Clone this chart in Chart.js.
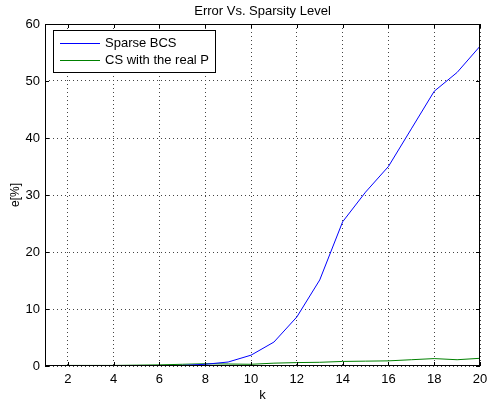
<!DOCTYPE html>
<html>
<head>
<meta charset="utf-8">
<script src="https://cdn.jsdelivr.net/npm/chart.js@4.4.1/dist/chart.umd.min.js"></script>
<style>
  html, body { margin: 0; padding: 0; background: #fff; }
  #wrap { width: 487px; height: 403px; }
</style>
</head>
<body>
<div id="wrap"><canvas id="c" width="487" height="403"></canvas></div>
<script>
// data
const kValues = [1, 2, 3, 4, 5, 6, 7, 8, 9, 10, 11, 12, 13, 14, 15, 16, 17, 18, 19, 20];
const sparseBCS = [0.05, 0.05, 0.05, 0.05, 0.05, 0.05, 0.1, 0.3, 0.7, 1.9, 4.2, 8.6, 15.1, 25.3, 30.5, 35, 41.6, 48.2, 51.5, 56.1];
const csRealP = [0.05, 0.1, 0.1, 0.1, 0.15, 0.2, 0.3, 0.4, 0.35, 0.3, 0.5, 0.6, 0.65, 0.8, 0.85, 0.9, 1.1, 1.3, 1.1, 1.35];
const xTicks = [2, 4, 6, 8, 10, 12, 14, 16, 18, 20];
const yTicks = [0, 10, 20, 30, 40, 50, 60];
const seriesLabels = ['Sparse BCS', 'CS with the real P'];
const seriesColors = ['#0000ff', '#008000'];
const chartTitle = 'Error Vs. Sparsity Level';

const FONT = 'Liberation Sans, Arial, Helvetica, sans-serif';

// matlab style: box, inward ticks, title over the axes, legend inside
const matlabBox = {
    id: 'matlabBox',
    afterDraw(chart) {
        const ctx = chart.ctx;
        const a = chart.chartArea;
        const xs = chart.scales.x, ys = chart.scales.y;
        ctx.save();
        ctx.strokeStyle = '#000';
        ctx.lineWidth = 1;
        ctx.strokeRect(a.left + 0.5, a.top + 0.5, a.right - a.left - 1, a.bottom - a.top - 1);
        ctx.beginPath();
        xTicks.forEach(v => {
            const px = Math.round(xs.getPixelForValue(v)) + 0.5;
            ctx.moveTo(px, a.bottom); ctx.lineTo(px, a.bottom - 4);
            ctx.moveTo(px, a.top); ctx.lineTo(px, a.top + 4);
        });
        yTicks.forEach(v => {
            const py = Math.round(ys.getPixelForValue(v)) + 0.5;
            ctx.moveTo(a.left, py); ctx.lineTo(a.left + 4, py);
            ctx.moveTo(a.right, py); ctx.lineTo(a.right - 4, py);
        });
        ctx.stroke();

        // title
        ctx.fillStyle = '#000';
        ctx.font = '13px ' + FONT;
        ctx.textAlign = 'center';
        ctx.textBaseline = 'middle';
        ctx.fillText(chartTitle, (a.left + a.right) / 2, 11);

        // legend
        const lx = a.left + 8, ly = a.top + 6, lw = 162, lh = 42;
        ctx.fillStyle = '#fff';
        ctx.fillRect(lx, ly, lw, lh);
        ctx.strokeRect(lx + 0.5, ly + 0.5, lw, lh);
        ctx.font = '13px ' + FONT;
        ctx.textAlign = 'left';
        chart.data.datasets.forEach((ds, i) => {
            const rowY = ly + 13 + i * 17;
            ctx.strokeStyle = ds.borderColor;
            ctx.beginPath();
            ctx.moveTo(lx + 7, rowY + 0.5); ctx.lineTo(lx + 47, rowY + 0.5);
            ctx.stroke();
            ctx.fillStyle = '#000';
            ctx.fillText(ds.label, lx + 52, rowY);
        });
        ctx.restore();
    }
};

new Chart(document.getElementById('c'), {
    type: 'line',
    data: {
        labels: kValues,
        datasets: [
            {
                label: seriesLabels[0],
                data: kValues.map((k, i) => ({ x: k, y: sparseBCS[i] })),
                borderColor: seriesColors[0],
                borderWidth: 1,
                pointRadius: 0,
                fill: false,
                tension: 0
            },
            {
                label: seriesLabels[1],
                data: kValues.map((k, i) => ({ x: k, y: csRealP[i] })),
                borderColor: seriesColors[1],
                borderWidth: 1,
                pointRadius: 0,
                fill: false,
                tension: 0
            }
        ]
    },
    options: {
        responsive: false,
        animation: false,
        layout: { padding: { left: 0, right: 7, top: 24, bottom: 0 } },
        plugins: {
            legend: { display: false },
            tooltip: { enabled: false },
            title: { display: false }
        },
        scales: {
            x: {
                type: 'linear',
                min: 1,
                max: 20,
                afterBuildTicks: s => { s.ticks = xTicks.map(v => ({ value: v })); },
                afterFit: s => { s.height = 37; s.paddingLeft = 0; s.paddingRight = 0; },
                border: { display: false, dash: [1, 3] },
                grid: { color: '#444', lineWidth: 1, drawTicks: false },
                ticks: { color: '#000', padding: 6, font: { family: FONT, size: 13 }, maxRotation: 0 },
                title: { display: true, text: 'k', color: '#000', padding: { top: 1, bottom: 0 }, font: { family: FONT, size: 13 } }
            },
            y: {
                min: 0,
                max: 60,
                afterBuildTicks: s => { s.ticks = yTicks.map(v => ({ value: v })); },
                afterFit: s => { s.width = 45; s.paddingTop = 0; s.paddingBottom = 0; },
                border: { display: false, dash: [1, 3] },
                grid: { color: '#444', lineWidth: 1, drawTicks: false },
                ticks: { color: '#000', padding: 5, font: { family: FONT, size: 13 } },
                title: { display: true, text: 'e[%]', color: '#000', padding: { top: 8, bottom: 0 }, font: { family: FONT, size: 12 } }
            }
        }
    },
    plugins: [matlabBox]
});
</script>
</body>
</html>
